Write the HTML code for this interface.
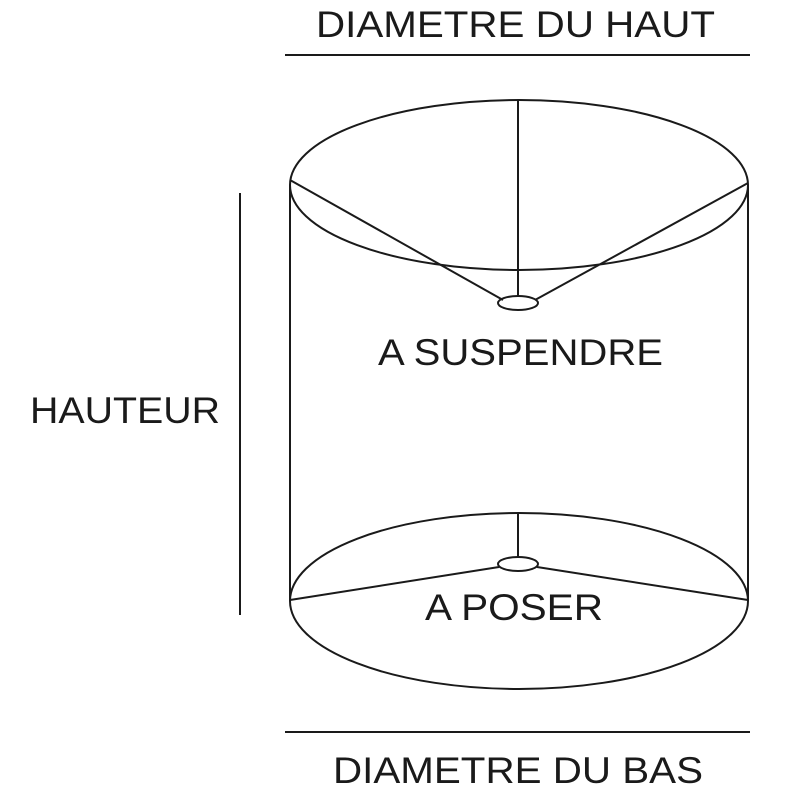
<!DOCTYPE html>
<html><head><meta charset="utf-8"><style>html,body{margin:0;padding:0;background:#fff}</style></head>
<body>
<svg width="800" height="800" viewBox="0 0 800 800" xmlns="http://www.w3.org/2000/svg">
<g fill="none" stroke="#1a1a1a" stroke-width="2">
<line x1="285" y1="55" x2="750" y2="55"/>
<line x1="285" y1="732" x2="750" y2="732"/>
<line x1="240" y1="193" x2="240" y2="615"/>
<ellipse cx="519" cy="185" rx="229" ry="85"/>
<ellipse cx="519" cy="601" rx="229" ry="88"/>
<line x1="290" y1="185" x2="290" y2="601"/>
<line x1="748" y1="185" x2="748" y2="601"/>
<line x1="518" y1="100" x2="518" y2="297"/>
<line x1="290" y1="180" x2="503" y2="300"/>
<line x1="748" y1="183" x2="535" y2="300"/>
<ellipse cx="518" cy="303" rx="20" ry="7"/>
<line x1="518" y1="513" x2="518" y2="557"/>
<ellipse cx="518" cy="564" rx="20" ry="7"/>
<line x1="499" y1="567" x2="290" y2="600"/>
<line x1="537" y1="567" x2="748" y2="600"/>
</g>
<g font-family="Liberation Sans, sans-serif" font-size="37" fill="#1a1a1a">
<text x="316" y="37" textLength="399" lengthAdjust="spacingAndGlyphs">DIAMETRE DU HAUT</text>
<text x="333" y="783" textLength="370" lengthAdjust="spacingAndGlyphs">DIAMETRE DU BAS</text>
<text x="30" y="423" textLength="190" lengthAdjust="spacingAndGlyphs">HAUTEUR</text>
<text x="378" y="365" textLength="285" lengthAdjust="spacingAndGlyphs">A SUSPENDRE</text>
<text x="425" y="620" textLength="178" lengthAdjust="spacingAndGlyphs">A POSER</text>
</g>
</svg>
</body></html>
